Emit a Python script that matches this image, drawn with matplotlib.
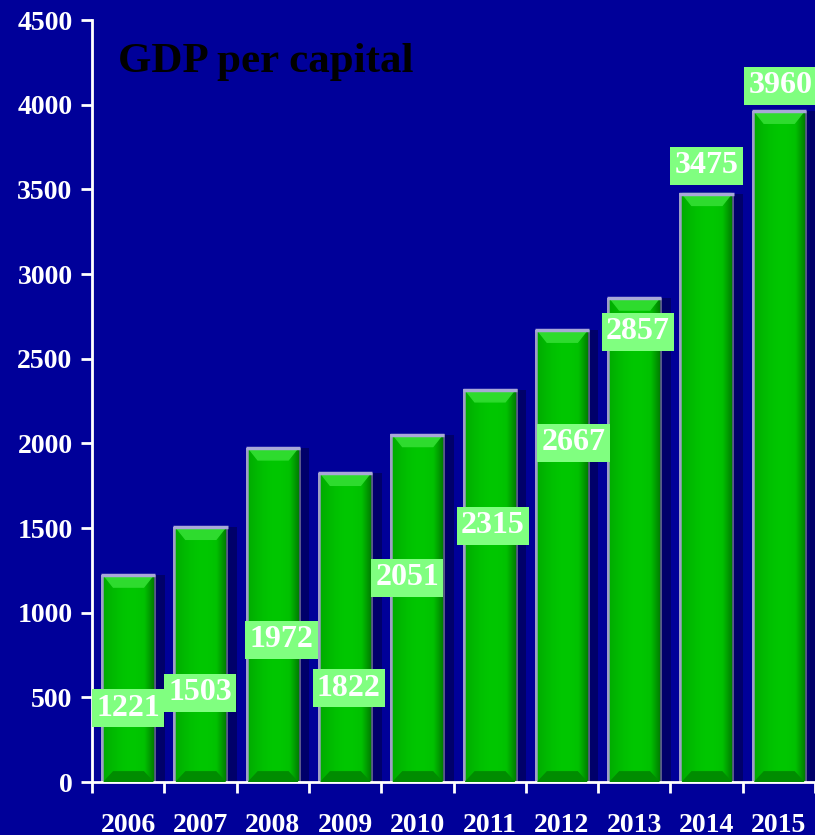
import numpy as np
import matplotlib.pyplot as plt
from matplotlib.patches import Polygon

years = ["2006", "2007", "2008", "2009", "2010", "2011", "2012", "2013", "2014", "2015"]
gdp = [1221, 1503, 1972, 1822, 2051, 2315, 2667, 2857, 3475, 3960]
# where the value boxes sit (y in data units, x shift in categories)
label_y = [437, 526, 839, 555, 1205, 1512, 2002, 2658, 3638, 4111]
label_dx = [0, 0, 0.12, 0.05, -0.14, 0.04, 0.16, 0.05, 0, 0.02]

plt.rcParams['font.family'] = ['Liberation Serif', 'DejaVu Serif']
plt.rcParams['font.weight'] = 'bold'

bg = '#000099'
fig = plt.figure(figsize=(8.15, 8.35), dpi=100, facecolor=bg)
ax = fig.add_axes([92 / 815, 53 / 835, 1 - 92 / 815, 762 / 835])
ax.set_facecolor(bg)

# horizontal shading for the bars
n = 60
t = np.linspace(0, 1, n)
g = 0.66 + 0.12 * np.sin(np.pi * t * 0.9) - 0.25 * np.clip((t - 0.8) / 0.2, 0, 1)
grad = np.zeros((1, n, 3))
grad[0, :, 1] = g
grad[0, :3, :] = [0.62, 0.62, 0.78]
grad[0, -2:, :] = [0.35, 0.35, 0.55]

w = 0.75
for i, v in enumerate(gdp):
    ax.bar(i + 0.08, v, w + 0.1, bottom=0, color='#00006A', zorder=1)
    ax.imshow(grad, extent=(i - w / 2, i + w / 2, 0, v), aspect='auto',
              interpolation='bilinear', zorder=2)
    ax.add_patch(Polygon([(i - w / 2 + 0.04, v), (i + w / 2 - 0.03, v),
                          (i + w / 2 - 0.16, v - 70), (i - w / 2 + 0.17, v - 70)],
                         closed=True, color='#2EDB2E', zorder=3))
    ax.add_patch(Polygon([(i - w / 2 + 0.04, 0), (i + w / 2 - 0.03, 0),
                          (i + w / 2 - 0.16, 60), (i - w / 2 + 0.17, 60)],
                         closed=True, color='#008C00', zorder=3))
    ax.plot([i - w / 2, i + w / 2], [v, v], color='#A8A8D8', lw=2.5, zorder=4,
            solid_capstyle='butt')
    ax.text(i + label_dx[i], label_y[i], str(v), ha='center', va='center',
            fontsize=23, color='white', fontweight='bold', zorder=6,
            bbox=dict(boxstyle='square,pad=0.13', fc='#80FF80', ec='none'))

ax.set_xlim(-0.5, (815 - 92) / 73.7 - 0.5)
ax.set_ylim(0, 4500)

ax.set_yticks(np.arange(0, 4501, 500))
ax.tick_params(axis='y', colors='white', labelsize=20, length=8, width=2, pad=6)
ax.set_xticks(np.arange(len(years)))
ax.set_xticklabels(years)
ax.set_xticks(np.arange(-0.5, 10, 1), minor=True)
ax.tick_params(axis='x', which='major', colors='white', labelsize=20, length=0, pad=22)
ax.tick_params(axis='x', which='minor', colors='white', length=8, width=2)
for lab in ax.get_xticklabels() + ax.get_yticklabels():
    lab.set_fontweight('bold')

for s in ['top', 'right']:
    ax.spines[s].set_visible(False)
for s in ['left', 'bottom']:
    ax.spines[s].set_color('white')
    ax.spines[s].set_linewidth(2)

fig.text(118 / 815, 1 - 62 / 835, "GDP per capital", ha='left', va='center',
         fontsize=31, color='black', fontweight='bold')

fig.savefig("out.png", dpi=100, facecolor=bg)
